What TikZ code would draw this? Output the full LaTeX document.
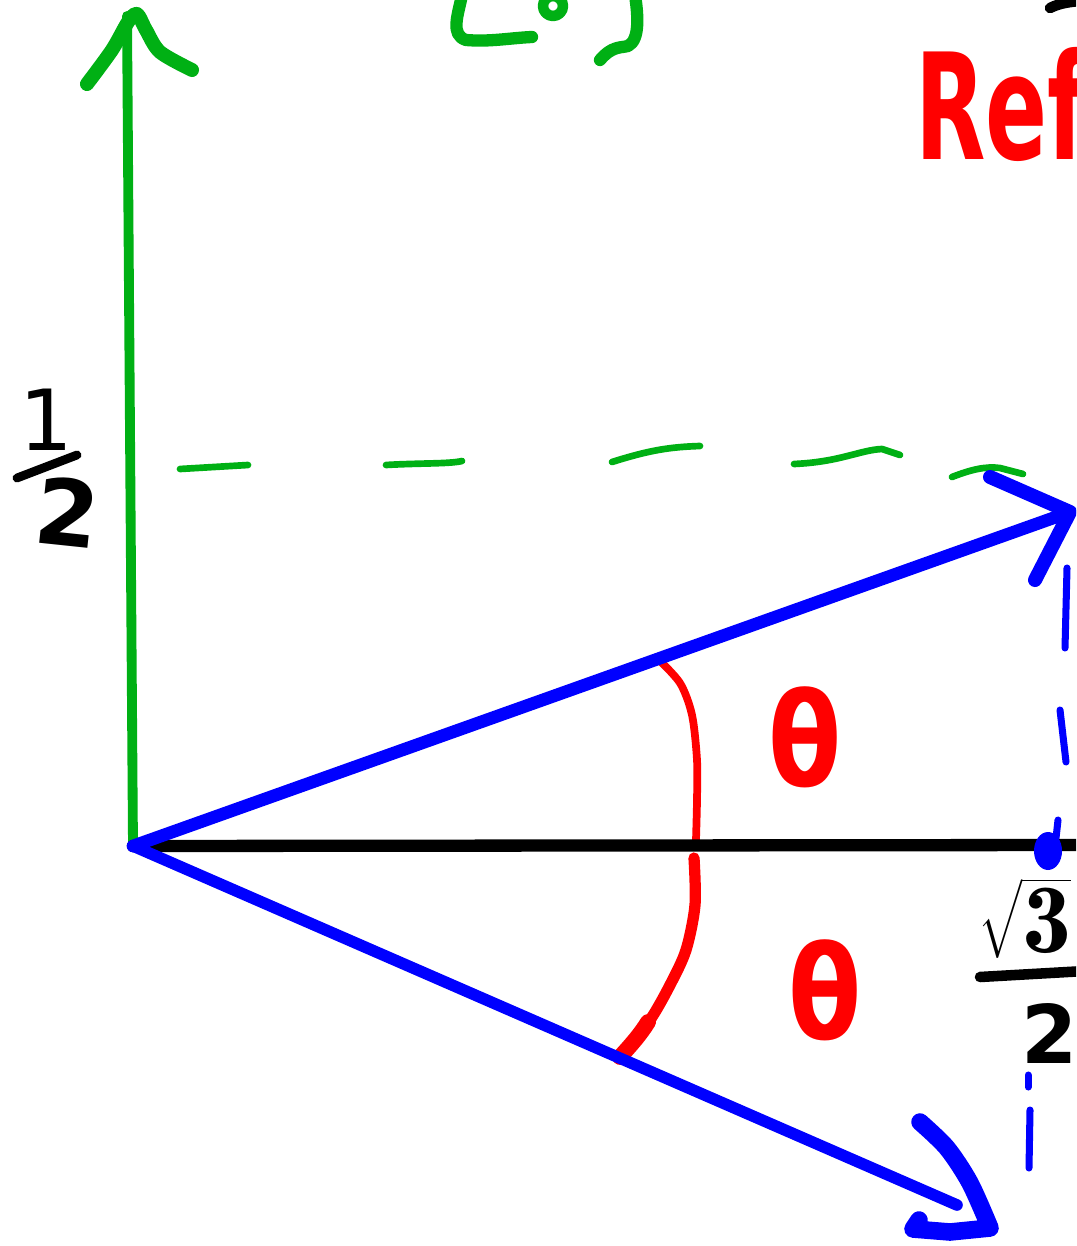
\documentclass[tikz,border=0pt]{standalone}
\usepackage{amsmath}
\usepackage{fontspec}
\newfontfamily\hand{DejaVu Sans}
\definecolor{hgreen}{RGB}{0,176,20}
\definecolor{hblue}{RGB}{0,0,255}
\definecolor{hred}{RGB}{255,0,0}
\begin{document}
\begin{tikzpicture}[x=0.02cm,y=-0.02cm,line cap=round,line join=round,
  greenaxis/.style={hgreen,line width=5.6pt},
  greendash/.style={hgreen,line width=3.8pt},
  blackaxis/.style={black,line width=7pt},
  bluevec/.style={hblue,line width=7.2pt},
  bluehead/.style={hblue,line width=8pt},
  bluedash/.style={hblue,line width=4pt},
  redarc/.style={hred,line width=4.4pt},
  redlabel/.style={text=hred,font=\hand\bfseries\fontsize{74}{80}\selectfont,inner sep=0pt,xscale=0.82},
  blacklabel/.style={text=black,font=\hand\bfseries\fontsize{46}{50}\selectfont,inner sep=0pt}]
\useasboundingbox (0,0) rectangle (1076,1246);
\clip (0,0) rectangle (1076,1246);

% named points
\coordinate (O) at (133,846);
\coordinate (Ytip) at (127,16);
\coordinate (Xend) at (1085,845);
\coordinate (Vup) at (1070,512);
\coordinate (Vdn) at (957,1205);

% green dashed level line y = 1/2
\draw[greendash] (180,469) -- (248,465);
\draw[greendash] (386,465) .. controls (420,463) and (450,464) .. (462,461);
\draw[greendash] (612,462) .. controls (650,450) and (670,447) .. (700,446);
\draw[greendash] (794,464) .. controls (840,462) and (860,450) .. (882,449) -- (900,455);
\draw[greendash] (952,477) .. controls (970,470) and (985,466) .. (1000,468) -- (1023,474);

% green fragments at top
\draw[hgreen,line width=7pt] (462,-5) .. controls (458,15) and (450,35) .. (466,40) .. controls (490,42) and (510,38) .. (532,37);
\draw[hgreen,line width=6pt] (553,6) circle (10);
\draw[hgreen,line width=7pt] (635,-5) .. controls (638,15) and (640,40) .. (628,46) .. controls (620,48) and (612,46) .. (600,60);

% black fragment top right
\draw[black,line width=6pt] (1050,8) .. controls (1060,3) and (1070,2) .. (1080,1);

% red angle arcs
\draw[redarc] plot[smooth] coordinates {(657,658) (680,683) (692,715) (697,760) (697,800) (696,840)};
\draw[hred,line width=6.4pt] plot[smooth] coordinates {(694,858) (695,905) (686,950) (670,985) (650,1020) (622,1055)};
\draw[hred,line width=9pt] (648,1022) .. controls (640,1035) and (630,1046) .. (620,1057);

% green y-axis
\draw[greenaxis] (O) -- (Ytip);
\draw[hgreen,line width=8pt] plot[smooth] coordinates {(87,84) (112,50) (128,22) (137,14) (146,30) (160,52) (192,70)};

% black x-axis
\draw[blackaxis] (O) -- (Xend);

% blue vectors
\draw[bluevec] (O) -- (Vup);
\draw[bluehead] (990,477) -- (Vup) -- (1035,580);
\draw[bluevec,line width=6.6pt] (O) -- (Vdn);
\draw[hblue,line width=10pt] plot[smooth] coordinates {(920,1122) (947,1148) (970,1183) (990,1228)} -- (950,1232) -- (913,1229) -- (919,1220);

% blue dashed drop line
\draw[bluedash] (1067,568) -- (1065,648);
\draw[bluedash] (1060,710) -- (1066,762);
\draw[bluedash] (1058,820) -- (1056,838);
\fill[hblue] (1048,851) ellipse (14 and 19);
\draw[bluedash] (1028,1075) -- (1028,1087);
\draw[bluedash] (1030,1110) -- (1029,1168);

% labels
\node[redlabel] (th1) at (805,737) {θ};
\node[redlabel] (th2) at (825,990) {θ};

\node[blacklabel,font=\hand\fontsize{48}{50}\selectfont] (one) at (46,420) {1};
\draw[black,line width=5pt] (17,478) -- (77,455);
\node[blacklabel,font=\hand\bfseries\fontsize{52}{56}\selectfont,rotate=-6] (two) at (68,512) {2};

\node[text=hred,font=\hand\bfseries\fontsize{84}{90}\selectfont,inner sep=0pt,xscale=0.62,anchor=base west] (ref) at (915,160) {Ref};

\node[text=black,font=\fontsize{56}{60}\selectfont,inner sep=0pt,anchor=west] (sq) at (978,918) {$\sqrt{\mathbf{3}}$};
\draw[black,line width=6pt] (980,977) -- (1085,971);
\node[blacklabel] (two2) at (1050,1033) {2};
\end{tikzpicture}
\end{document}
